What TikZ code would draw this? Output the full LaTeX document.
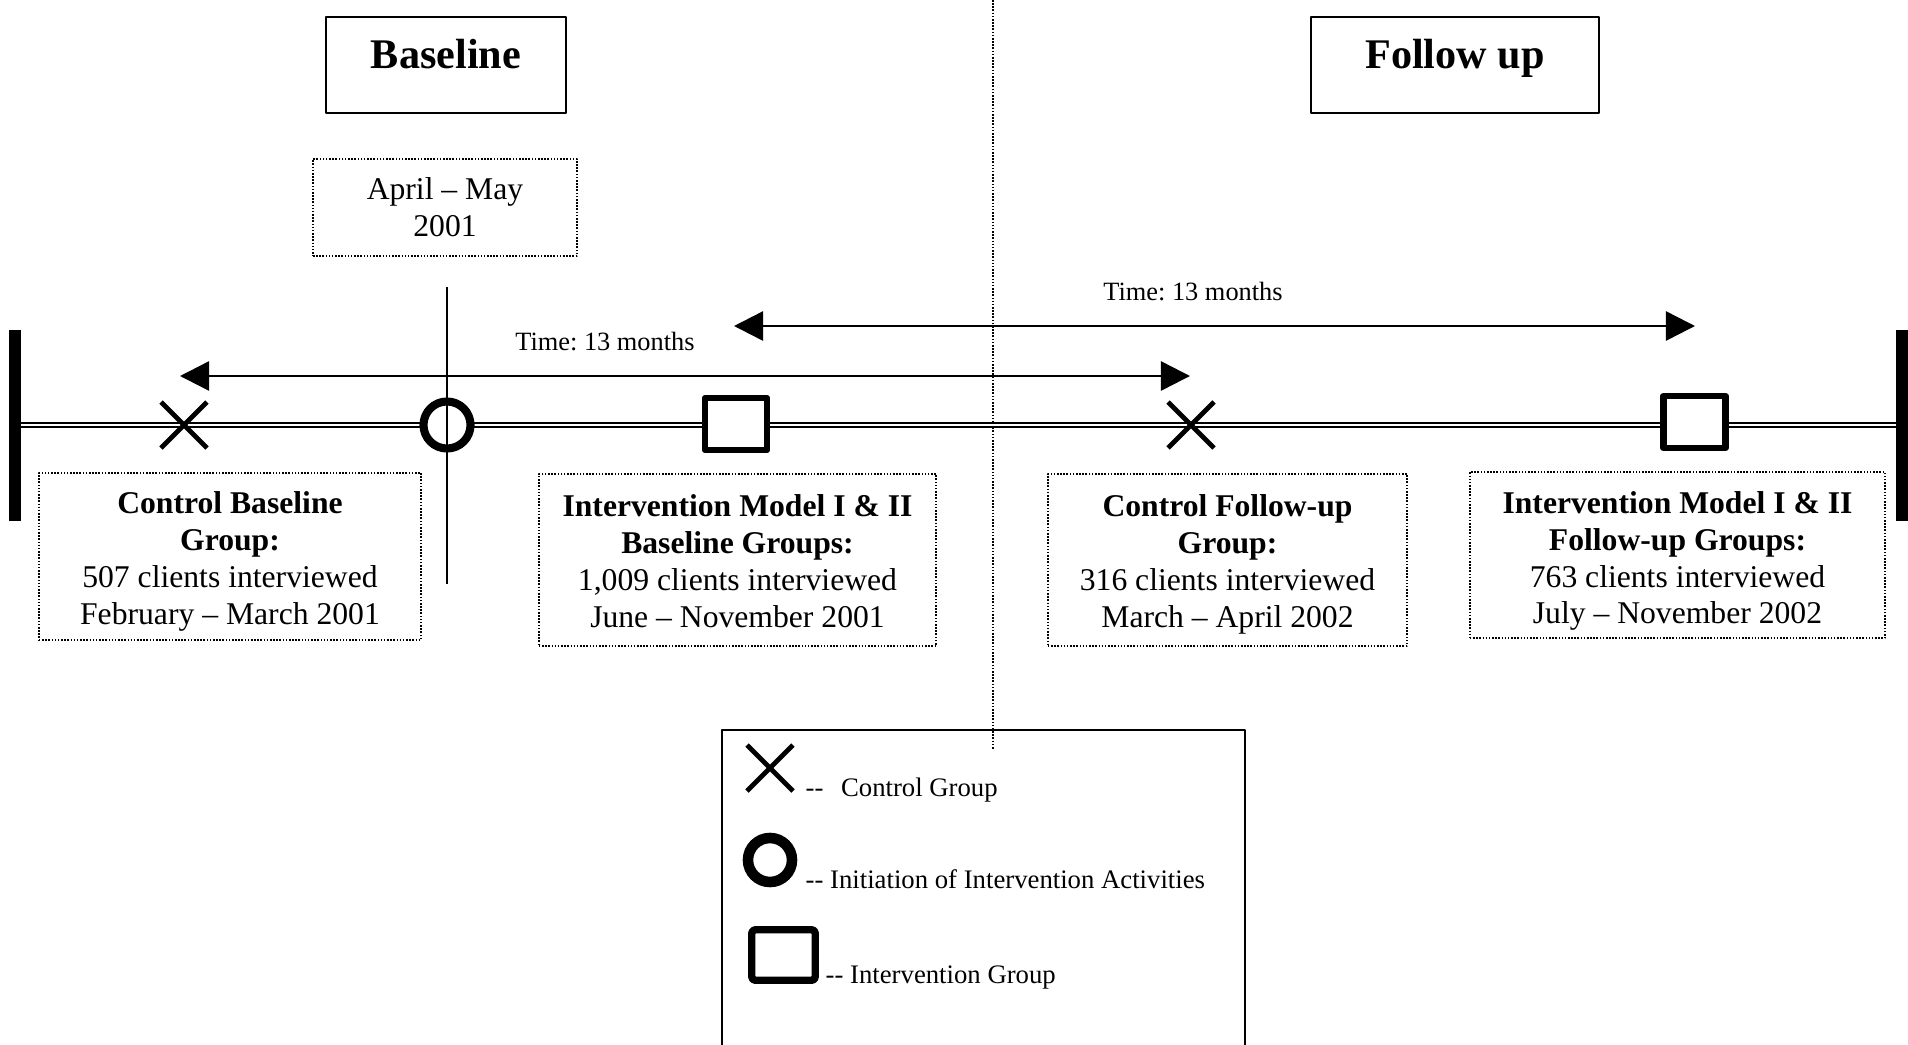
\documentclass[tikz,border=0pt]{standalone}
\usepackage{fontspec}
\setmainfont{Liberation Serif}
\frenchspacing
\usetikzlibrary{arrows.meta}

\begin{document}
\begin{tikzpicture}[x=0.01cm, y=-0.01cm, line join=round, >={Triangle[length=2.9mm,width=2.9mm]},
		phase/.style={draw, line width=0.55pt, inner sep=0pt, text height=5.1mm, text depth=4.5mm, anchor=base, font=\fontsize{12}{14}\selectfont\bfseries},
		frame/.style={draw, line width=0.45pt, dash pattern=on 0.45pt off 0.45pt, inner sep=0pt},
		note/.style={inner sep=0pt, align=center, font=\fontsize{9}{10.5}\selectfont},
		cross/.style={line width=1.4pt, line cap=butt},
		ring/.style={line width=2.3pt, fill=white},
		sq/.style={line width=1.85pt, fill=white},
		key/.style={anchor=base west, inner sep=0pt, font=\fontsize{7.6}{9}\selectfont}]
			\useasboundingbox (0,0) rectangle (1908,1045);
			% phases
			\node[phase, minimum width=24mm] (base) at (446,68) {Baseline};
			\node[phase, minimum width=28.8mm] (follow) at (1455,68) {Follow up};
			\draw[line width=0.45pt, dash pattern=on 0.45pt off 0.45pt] (993,0)coordinate(M)--(993,750)coordinate(N);
			\node[frame, note, minimum width=26.4mm, minimum height=9.7mm] (start) at (445,207.5) {April -- May\\2001};
			% time line
			\path (15,425)coordinate(L) (1902,425)coordinate(R)
			(184,425)coordinate(X1) (1191,425)coordinate(X2)
			(447,425)coordinate(O) (736,424)coordinate(S1) (1694.5,422)coordinate(S2)
			(447,287)coordinate(T) (447,584)coordinate(U);
			\draw[double, line width=0.6pt, double distance=0.75pt] (L)--(R);
			\foreach \p in {L,R} \draw[line width=3.4pt] ([shift={(0,-95)}]\p)--([shift={(0,96)}]\p);
			\foreach \p in {X1,X2} \draw[cross] ([shift={(-23,-23)}]\p)--([shift={(23,23)}]\p) ([shift={(-23,23)}]\p)--([shift={(23,-23)}]\p);
			\foreach \p in {S1,S2} \draw[sq] ([shift={(-31,-26)}]\p) rectangle ([shift={(31,26)}]\p);
			\draw[ring] (O) circle[radius=2.35mm];
			\draw[line width=0.55pt] (T)--(U);
			% 13 months
			\draw[<->, line width=0.7pt] (180,376)coordinate(A1)--(1190,376)coordinate(B1);
			\draw[<->, line width=0.7pt] (734,326)coordinate(A2)--(1695,326)coordinate(B2);
			\foreach \n/\x/\y in {t1/605/350, t2/1193/300}
				\node[anchor=base, inner sep=0pt, font=\fontsize{7.5}{9}\selectfont] (\n) at (\x,\y) {Time: 13 months};
			% groups
			\node[frame, minimum width=38.2mm, minimum height=16.7mm] (cb) at (230,556.5) {};
			\node[frame, minimum width=39.7mm, minimum height=17.2mm] (ib) at (737.5,560) {};
			\node[frame, minimum width=35.9mm, minimum height=17.2mm] (cf) at (1227.5,560) {};
			\node[frame, minimum width=41.5mm, minimum height=16.6mm] (if) at (1677.5,555) {};
			\node[note] (cbt) at ([shift={(0,5)}]cb)
				{\textbf{Control Baseline}\\\textbf{Group:}\\507 clients interviewed\\February -- March 2001};
			\node[note] (ibt) at ([shift={(0,1)}]ib)
				{\textbf{Intervention Model I \& II}\\\textbf{Baseline Groups:}\\1,009 clients interviewed\\June -- November 2001};
			\node[note] (cft) at ([shift={(0,4)}]cf)
				{\textbf{Control Follow-up}\\\textbf{Group:}\\316 clients interviewed\\March -- April 2002};
			\node[note] (ift) at ([shift={(0,6)}]if)
				{\textbf{Intervention Model I \& II}\\\textbf{Follow-up Groups:}\\763 clients interviewed\\July -- November 2002};
			% legend
			\draw[line width=0.5pt] (722,1045)--(722,730)--(1245,730)--(1245,1045);
			\path (770,768)coordinate(KX) (770,860)coordinate(KO) (783.5,955)coordinate(KS);
			\draw[cross] ([shift={(-23,-23)}]KX)--([shift={(23,23)}]KX) ([shift={(-23,23)}]KX)--([shift={(23,-23)}]KX);
			\draw[line width=3pt] (KO) circle[radius=2.2mm];
			\draw[line width=2.1pt, rounded corners=1pt] ([shift={(-31.75,-25.25)}]KS) rectangle ([shift={(31.75,25.25)}]KS);
			\node[key] (k1) at (805,796) {-{}-\hspace{5pt}Control Group};
			\node[key] (k2) at (805,888) {-{}- Initiation of Intervention Activities};
			\node[key] (k3) at (825,983) {-{}- Intervention Group};
			\end{tikzpicture}
\end{document}
